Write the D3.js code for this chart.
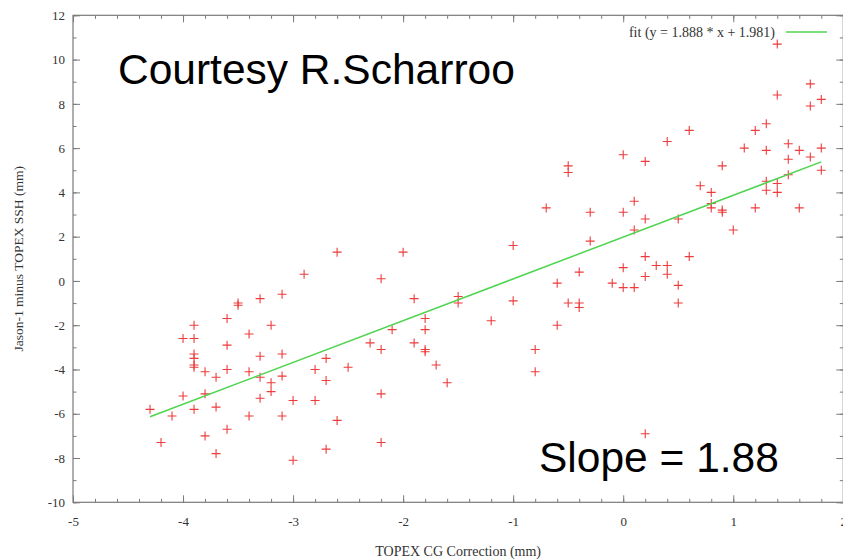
<!DOCTYPE html>
<html>
<head>
<meta charset="utf-8">
<script src="https://cdn.jsdelivr.net/npm/d3@7"></script>
<style>
	body { margin: 0; background: #fff; }
	svg { display: block; }
	.tick text { font-family: "Liberation Serif", "DejaVu Serif", serif; font-size: 13px; fill: #333; }
	.tick line { stroke: #7a7a7a; }
	.axes-text { font-family: "Liberation Serif", serif; font-size: 14px; fill: #333; }
	.big-text { font-family: "Liberation Sans", Arial, sans-serif; font-size: 42.5px; fill: #000; }
</style>
</head>
<body>
<div id="container"></div>
<script>
// values (x = TOPEX CG correction, y = Jason-1 minus TOPEX SSH)
const xValues=[
	-2.9,-3.1,-3.3,-3.5,-3.5,-3.6,-3.9,-3.2,-4.0,-3.9,-3.4,-3.6,-3.9,-3.9,-3.9,-3.9,-3.8,-3.7,-3.6,-3.4,
	-3.3,-3.1,-3.3,-3.1,-3.2,-3.2,-2.8,-2.7,-2.7,-4.0,-3.8,-4.3,-4.1,-3.9,-3.7,-3.3,-3.4,-3.1,-3.0,-2.8,
	-3.6,-4.2,-3.8,-3.7,-3.0,-2.7,
	-0.5,-0.5,-0.7,-0.3,-0.3,-1.0,-2.6,-2.0,-2.2,-0.4,-0.6,-1.9,-1.5,-1.5,-1.0,-0.5,-0.4,-0.4,-0.6,-1.2,
	-1.8,-1.8,-2.1,-2.3,-2.2,-1.9,-1.8,-1.8,-1.7,-1.6,-2.5,-2.2,-2.6,-2.2,-0.8,-0.8,0.2,
	1.4,1.4,1.7,1.7,1.8,0.6,0.4,0.0,0.2,0.9,1.2,1.3,1.1,1.3,1.5,1.6,1.8,1.5,1.7,1.8,
	1.3,1.3,1.4,1.4,1.5,0.7,0.8,0.8,0.8,0.9,0.9,1.2,1.6,1.0,0.1,0.0,0.2,0.1,0.5,0.2,
	0.6,0.0,0.3,0.4,-0.1,0.0,0.1,0.2,0.4,0.5,0.5
];
const yValues=[
	0.3,-0.6,-0.8,-1.0,-1.1,-1.7,-2.0,-2.0,-2.6,-2.6,-2.4,-2.9,-3.3,-3.5,-3.8,-3.9,-4.1,-4.35,-4.0,-4.1,
	-3.4,-3.3,-4.35,-4.3,-4.6,-5.0,-4.0,-3.5,-4.5,-5.2,-5.1,-5.8,-6.1,-5.8,-5.7,-5.3,-6.1,-6.1,-5.4,-5.4,
	-6.7,-7.3,-7.0,-7.8,-8.1,-7.6,
	5.2,4.9,3.3,3.1,1.8,1.6,1.3,1.3,0.1,0.4,-0.1,-0.8,-0.7,-1.0,-0.9,-1.0,-1.0,-1.2,-2.0,-1.8,
	-1.7,-2.2,-2.2,-2.8,-3.1,-2.8,-3.1,-3.2,-3.8,-4.6,-3.9,-5.1,-6.3,-7.3,-3.1,-4.1,-6.9,
	10.7,8.4,8.9,7.9,8.2,6.8,6.3,5.7,5.4,5.2,6.8,7.1,6.0,5.9,6.2,5.9,6.0,5.5,5.6,5.0,
	4.5,4.1,4.4,4.0,4.8,4.3,4.0,3.5,3.3,3.2,3.1,3.3,3.3,2.3,3.6,3.1,2.8,2.3,2.8,1.1,
	1.1,0.6,0.7,0.7,-0.1,-0.3,-0.3,0.2,0.3,-0.2,-1.0
];
const xTicks=[-5,-4,-3,-2,-1,0,1,2];
const yTicks=[-10,-8,-6,-4,-2,0,2,4,6,8,10,12];
const fitSlope=1.888;
const fitIntercept=1.981;
const fitRange=[-4.3,1.8];
const fitLabel="fit (y = 1.888 * x + 1.981)";

const dataset=xValues.map((d,i) => ({x:d, y:yValues[i]}));

const w=843;
const h=559;
const svg=d3.select("#container").append("svg").attr("width", w).attr("height", h);

const xScale=d3.scaleLinear().domain([-5,2]).range([73,843.3]);
const yScale=d3.scaleLinear().domain([-10,12]).range([502.3,15.3]);
const plotLeft=xScale(-5), plotRight=xScale(2), plotTop=yScale(12), plotBottom=yScale(-10);

const minorX=d3.range(-5,2.001,0.2).map(d => +d.toFixed(1));
const minorY=d3.range(-10,12.001,1);
const fmt=d => String(d);

//ticks, all pointing inward like gnuplot
svg.append("g").attr("transform", `translate(0,${plotBottom})`)
	.call(d3.axisBottom(xScale).tickValues(minorX).tickSize(-3.5).tickFormat(""));
svg.append("g").attr("transform", `translate(0,${plotBottom})`)
	.call(d3.axisBottom(xScale).tickValues(xTicks).tickSize(-7).tickPadding(14).tickFormat(fmt));
svg.append("g").attr("transform", `translate(0,${plotTop})`)
	.call(d3.axisTop(xScale).tickValues(minorX).tickSize(-3.5).tickFormat(""));
svg.append("g").attr("transform", `translate(0,${plotTop})`)
	.call(d3.axisTop(xScale).tickValues(xTicks).tickSize(-7).tickFormat(""));
svg.append("g").attr("transform", `translate(${plotLeft},0)`)
	.call(d3.axisLeft(yScale).tickValues(minorY).tickSize(-3.5).tickFormat(""));
svg.append("g").attr("transform", `translate(${plotLeft},0)`)
	.call(d3.axisLeft(yScale).tickValues(yTicks).tickSize(-7).tickPadding(8).tickFormat(fmt));
svg.append("g").attr("transform", `translate(${plotRight},0)`)
	.call(d3.axisRight(yScale).tickValues(minorY).tickSize(-3.5).tickFormat(""));
svg.append("g").attr("transform", `translate(${plotRight},0)`)
	.call(d3.axisRight(yScale).tickValues(yTicks).tickSize(-7).tickFormat(""));
svg.selectAll(".domain").remove();

svg.append("rect")
	.attr("x", plotLeft).attr("y", plotTop)
	.attr("width", plotRight-plotLeft).attr("height", plotBottom-plotTop)
	.attr("fill", "none").attr("stroke", "#7a7a7a").attr("stroke-width", 1.2);

//data points as "+"
svg.append("g").selectAll("path")
	.data(dataset)
	.enter()
	.append("path")
		.attr("d", d => {
			const cx=xScale(d.x), cy=yScale(d.y);
			return `M${cx-4.5},${cy}h9M${cx},${cy-4.5}v9`;
		})
		.attr("stroke", "#ee3b3b")
		.attr("stroke-width", 1.1)
		.attr("fill", "none");

//fit line
svg.append("line")
	.attr("x1", xScale(fitRange[0])).attr("y1", yScale(fitSlope*fitRange[0]+fitIntercept))
	.attr("x2", xScale(fitRange[1])).attr("y2", yScale(fitSlope*fitRange[1]+fitIntercept))
	.attr("stroke", "#4fd44f").attr("stroke-width", 1.5);

//legend
svg.append("text")
	.attr("x", 775).attr("y", 36.5)
	.attr("text-anchor", "end")
	.attr("class", "axes-text")
	.text(fitLabel);
svg.append("line")
	.attr("x1", 786).attr("x2", 827).attr("y1", 32).attr("y2", 32)
	.attr("stroke", "#4fd44f").attr("stroke-width", 1.5);

//axis titles
svg.append("text")
	.attr("transform", "rotate(-90)")
	.attr("x", -(plotTop+plotBottom)/2)
	.attr("y", 23)
	.attr("text-anchor", "middle")
	.attr("class", "axes-text")
	.style("font-size", "13.5px")
	.text("Jason-1 minus TOPEX SSH (mm)");
svg.append("text")
	.attr("x", (plotLeft+plotRight)/2)
	.attr("y", 556)
	.attr("text-anchor", "middle")
	.attr("class", "axes-text")
	.text("TOPEX CG Correction (mm)");

//annotations
svg.append("text").attr("x", 118).attr("y", 83.5).attr("class", "big-text").text("Courtesy R.Scharroo");
svg.append("text").attr("x", 539).attr("y", 471.5).attr("class", "big-text").text("Slope = 1.88");
</script>
</body>
</html>
